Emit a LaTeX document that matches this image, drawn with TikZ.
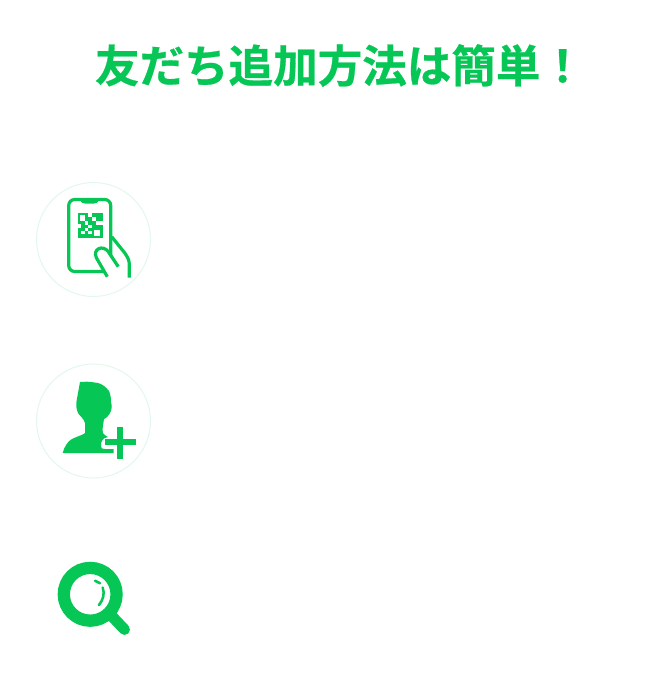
\documentclass[tikz,border=0pt]{standalone}
\usepackage{fontspec}
\usepackage{tikz}
\newfontfamily\cjkbold{Noto Sans CJK JP Bold}[FakeBold=0.6]
\definecolor{linegreen}{HTML}{06C755}
\definecolor{ringgreen}{HTML}{E3F8EC}
\tikzset{
  iconline/.style={draw=linegreen,line width=2.4pt},
  iconfill/.style={fill=linegreen,draw=none},
  ringline/.style={draw=ringgreen,line width=0.75pt,fill=white},
}
\begin{document}
\begin{tikzpicture}[x=0.75pt,y=0.75pt,yscale=-1,xscale=1]
\useasboundingbox (0,0) rectangle (660,700);
\fill [white] (0,0) rectangle (660,700);

% Text Node
\node (title) at (340,65.5) [inner sep=0.75pt,text=linegreen] {\fontsize{33.4}{36}\cjkbold 友だち追加方法は簡単！};

%Circles
\draw [ringline] (93.5,239.5) circle [radius=42.75pt];
\draw [ringline] (93.5,421) circle [radius=42.75pt];

%Phone
\draw [iconline,rounded corners=4.5pt] (68.7,199.5) rectangle (110.7,271.5);
\fill [iconfill] (80,199) -- (99,199) .. controls (98,203) and (96,203.5) .. (94,203.5) -- (85,203.5) .. controls (83,203.5) and (81,203) .. (80,199) -- cycle;
%QR block
\fill [iconfill] (77.5,213) rectangle (102.5,237.5);
\fill [white] (79.5,215) rectangle (85,220.5);
\fill [white] (88,213) rectangle (92,217);
\fill [white] (92,217) rectangle (95.5,220.5);
\fill [white] (77.5,224) rectangle (81,228);
\fill [white] (84.5,221) rectangle (88,224.5);
\fill [white] (88,224.5) rectangle (92,228);
\fill [white] (95.5,221) rectangle (102.5,224.5);
\fill [white] (81,231) rectangle (84.5,234);
\fill [white] (84.5,228) rectangle (88,231);
\fill [white] (88,231) rectangle (92,234);
\fill [white] (93.5,229.5) rectangle (100,235.5);
%Hand
\draw [iconline,line join=round] (111.7,236.7) -- (125,253.3) .. controls (128,258) and (129.3,260) .. (129.3,265) -- (129.3,277.7);
\draw [iconline,fill=white] (107.3,276.7) -- (96.5,258) .. controls (92,249) and (103,244) .. (108.5,252) -- (118.3,266.7);

%Person
\fill [iconfill] (80,382) -- (86.7,381.7) .. controls (92,382) and (95,382.5) .. (98,383) .. controls (102,384) and (106,387) .. (109,391) .. controls (110.5,394) and (111,398) .. (111,402) .. controls (112,406) and (112,408) .. (111,411) .. controls (109,415) and (107,418) .. (104,419) .. controls (103,426) and (102,430) .. (103,433) .. controls (105,436) and (107,436) .. (108,437) .. controls (102,438) and (101,442) .. (101,445) .. controls (101,449) and (103,449) .. (105,449) -- (113.5,449) -- (113.5,453) -- (62.7,453) .. controls (64,447) and (68,441) .. (72,439) .. controls (78,436) and (83,435) .. (85,433) -- (85,423) .. controls (84,419) and (80,416) .. (78,413) .. controls (76,409) and (76,404) .. (76.7,400) .. controls (77,397) and (78,395) .. (78,393) -- cycle;
%Plus
\fill [iconfill] (117.3,427) rectangle (123.3,458.7);
\fill [iconfill] (105,439.3) rectangle (136,445.3);

%Magnifier
\draw [draw=linegreen,line width=9.2pt] (90.2,594.3) circle [radius=19.8pt];
\draw [draw=linegreen,line width=8.2pt,line cap=round] (111.7,616) -- (124.5,629.5);
\draw [draw=linegreen,line width=1.9pt,line cap=round] (95,580.7) -- (100,583.3);
\draw [draw=linegreen,line width=1.9pt,line cap=round] (102.7,587.5) .. controls (105,594) and (103,600) .. (99,605);
\end{tikzpicture}
\end{document}
